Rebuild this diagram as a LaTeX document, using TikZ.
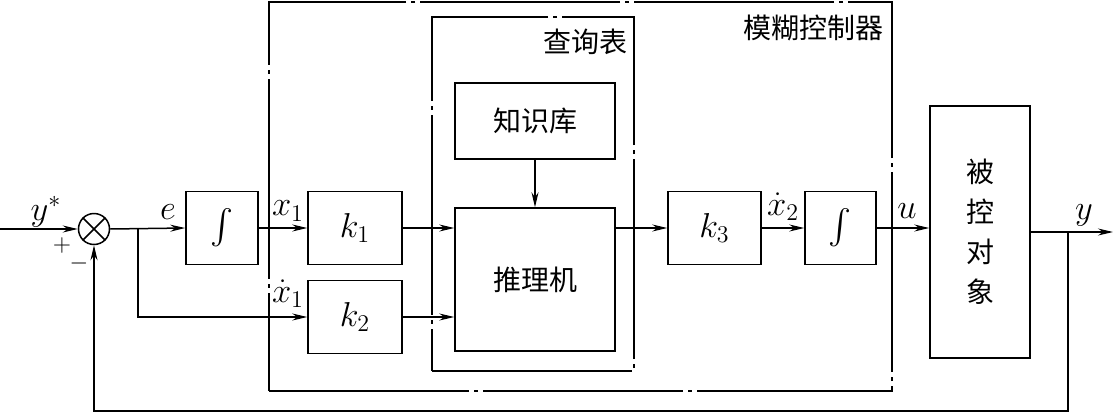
\documentclass[tikz,border=0pt]{standalone}
\usepackage{amsmath}
\usepackage{fontspec}
\newfontfamily\cjk{Noto Sans CJK SC}
\usetikzlibrary{positioning,arrows.meta}

\begin{document}
\begin{tikzpicture}[
  x=0.5pt, y=-0.5pt,
  line width=0.75pt,
  font=\fontsize{17pt}{20pt}\selectfont,
  block/.style={draw, minimum width=#1, minimum height=36.5pt, inner sep=0pt},
  integ/.style={block=#1, font=\fontsize{17pt}{20pt}\selectfont},
  frame/.style={draw, dash pattern=on 100pt off 2.5pt on 2pt off 2.5pt, inner sep=0pt},
  hanzi/.style={font=\cjk\fontsize{14pt}{20pt}\selectfont, inner sep=0pt},
  lab/.style={inner sep=0pt},
  flow/.style={-{Stealth[length=7.5pt,width=3.5pt,inset=2.5pt]}}
]
\useasboundingbox (0,0) rectangle (1113,413);

\node[frame, minimum width=311.5pt, minimum height=194.5pt] (fuzzy) at (580.5,196.5) {};
\node[frame, minimum width=101pt, minimum height=177pt] (table) at (533,194) {};
\node[hanzi, anchor=north east] (fuzzylab) at (884,14) {模糊控制器};
\node[hanzi, anchor=north east] (tablelab) at (628,28) {查询表};

\node[draw, circle, minimum size=15.5pt, inner sep=0pt] (sum) at (94,229) {};
\draw (sum.north west) -- (sum.south east) (sum.north east) -- (sum.south west);

\node[integ=36pt] (int1) at (222,228) {$\int$};
\node[block=47pt] (k1) at (355,228) {$k_1$};
\node[block=47pt] (k2) at (355,317) {$k_2$};
\node[draw, minimum width=80pt, minimum height=38pt, hanzi] (kb) at (535,121) {知识库};
\node[draw, minimum width=80pt, minimum height=71.5pt, hanzi] (infer) at (535,279.5) {推理机};
\node[block=46.5pt] (k3) at (714.5,228) {$k_3$};
\node[integ=35.5pt] (int2) at (840.5,228) {$\int$};
\node[draw, minimum width=50pt, minimum height=126pt, hanzi, align=center] (plant) at (980,232) {被\\控\\对\\象};

\coordinate (in) at (0,229);
\coordinate (br) at (138,229);
\coordinate (tap) at (1068,232);
\coordinate (out) at (1113,232);

\draw[flow] (in) -- (sum.west);
\draw[flow] (sum.east) -- (int1.west);
\draw[flow] (int1) -- (k1);
\draw[flow] (br) |- (k2.west);
\draw[flow] (k1.east) -- (k1.east -| infer.west);
\draw[flow] (k2.east) -- (k2.east -| infer.west);
\draw[flow] (kb) -- (infer);
\draw[flow] (infer.east |- k3.west) -- (k3.west);
\draw[flow] (k3) -- (int2);
\draw[flow] (int2.east) -- (int2.east -| plant.west);
\draw[flow] (plant.east) -- (out);
\draw[flow] (tap) -- ++(0,179) -| (sum.south);

\node[lab] (ystar) at (46,212) {$y^*$};
\node[lab, font=\fontsize{12pt}{14pt}\selectfont] (plus) at (62,245) {$+$};
\node[lab, font=\fontsize{12pt}{14pt}\selectfont] (minus) at (79,263) {$-$};
\node[lab] (elab) at (168,212) {$e$};
\node[lab] (x1lab) at (288,211) {$x_1$};
\node[lab] (dx1lab) at (288,294) {$\dot x_1$};
\node[lab] (dx2lab) at (783,207) {$\dot x_2$};
\node[lab] (ulab) at (907,211) {$u$};
\node[lab] (ylab) at (1084,215) {$y$};
\end{tikzpicture}
\end{document}
